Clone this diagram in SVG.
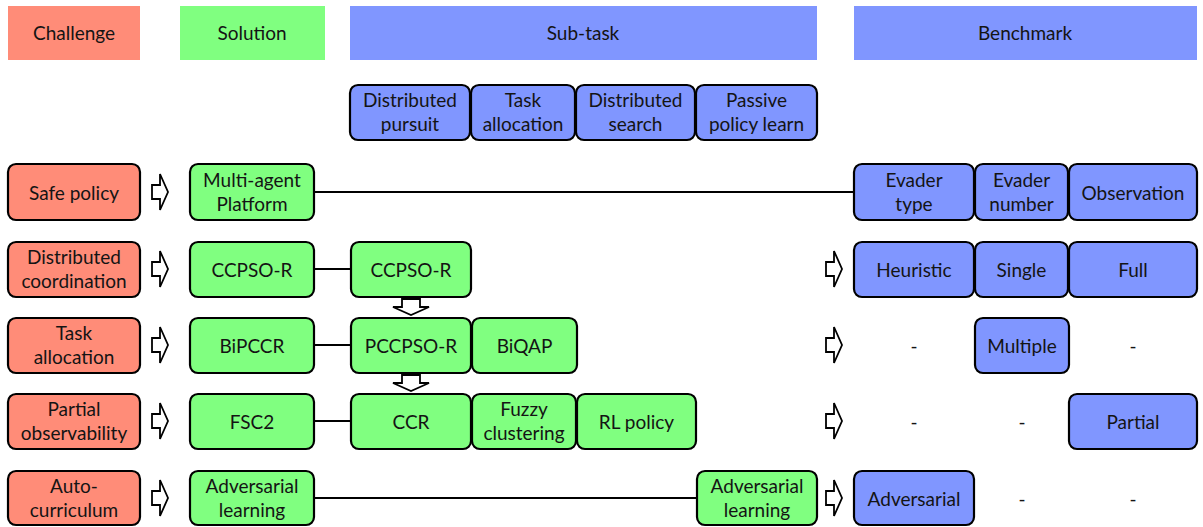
<svg xmlns="http://www.w3.org/2000/svg" width="1203" height="527" viewBox="0 0 1203 527">
  <style>
    text { font-family: Lato, "Liberation Sans", sans-serif; font-size: 19px; fill: #141414; text-anchor: middle; }
    .hdr { stroke: none; }
    .node { stroke: #000; stroke-width: 2.2; }
    .red { fill: #FF8C78; }
    .green { fill: #80FF80; }
    .blue { fill: #8096FF; }
    .link { stroke: #000; stroke-width: 2; fill: none; }
    .barrow { fill: #fff; stroke: #000; stroke-width: 1.8; stroke-linejoin: miter; }
  </style>
  <defs>
    <!-- hollow block arrow pointing right, tip at (8,0) -->
    <path id="arrR" d="M -8 -7 H 0 V -18 L 8 0 L 0 18 V 7 H -8 Z"/>
    <!-- hollow block arrow pointing down, tip at (0,8) -->
    <path id="arrD" d="M -9 -8 V 0 H -18 L 0 8 L 18 0 H 9 V -8 Z"/>
  </defs>
  <rect width="1203" height="527" fill="#fff"/>

  <!-- column headers -->
  <g id="hdr-challenge"><rect class="hdr red" x="8" y="6" width="132" height="54"/><text x="74" y="40">Challenge</text></g>
  <g id="hdr-solution"><rect class="hdr green" x="180" y="6" width="145" height="54"/><text x="252" y="40">Solution</text></g>
  <g id="hdr-subtask"><rect class="hdr blue" x="350" y="6" width="467" height="54"/><text x="583" y="40">Sub-task</text></g>
  <g id="hdr-benchmark"><rect class="hdr blue" x="854" y="6" width="343" height="54"/><text x="1025" y="40">Benchmark</text></g>

  <!-- connectors -->
  <g id="connectors">
    <line class="link" x1="314" y1="192" x2="854" y2="192"/>
    <line class="link" x1="314" y1="269" x2="351" y2="269"/>
    <line class="link" x1="314" y1="345" x2="351" y2="345"/>
    <line class="link" x1="314" y1="421" x2="351" y2="421"/>
    <line class="link" x1="314" y1="498" x2="697" y2="498"/>
    <use href="#arrR" class="barrow" x="160" y="192"/>
    <use href="#arrR" class="barrow" x="160" y="269"/>
    <use href="#arrR" class="barrow" x="160" y="345"/>
    <use href="#arrR" class="barrow" x="160" y="421"/>
    <use href="#arrR" class="barrow" x="160" y="498"/>
    <use href="#arrR" class="barrow" x="834" y="269"/>
    <use href="#arrR" class="barrow" x="834" y="345"/>
    <use href="#arrR" class="barrow" x="834" y="421"/>
    <use href="#arrR" class="barrow" x="834" y="498"/>
    <use href="#arrD" class="barrow" x="411" y="307"/>
    <use href="#arrD" class="barrow" x="411" y="383"/>
  </g>

  <!-- sub-task categories -->
  <g id="st-pursuit"><rect class="node blue" x="350" y="85" width="120" height="55" rx="8"/><text x="410" y="107">Distributed</text><text x="410" y="131">pursuit</text></g>
  <g id="st-alloc"><rect class="node blue" x="471" y="85" width="104" height="55" rx="8"/><text x="523" y="107">Task</text><text x="523" y="131">allocation</text></g>
  <g id="st-search"><rect class="node blue" x="576" y="85" width="119" height="55" rx="8"/><text x="635.5" y="107">Distributed</text><text x="635.5" y="131">search</text></g>
  <g id="st-passive"><rect class="node blue" x="696" y="85" width="121" height="55" rx="8"/><text x="756.5" y="107">Passive</text><text x="756.5" y="131">policy learn</text></g>

  <!-- challenges -->
  <g id="ch-safe"><rect class="node red" x="8" y="164" width="132" height="56" rx="8"/><text x="74" y="200">Safe policy</text></g>
  <g id="ch-coord"><rect class="node red" x="8" y="242" width="132" height="55" rx="8"/><text x="74" y="264">Distributed</text><text x="74" y="288">coordination</text></g>
  <g id="ch-alloc"><rect class="node red" x="8" y="318" width="132" height="55" rx="8"/><text x="74" y="340">Task</text><text x="74" y="364">allocation</text></g>
  <g id="ch-partial"><rect class="node red" x="8" y="394" width="132" height="55" rx="8"/><text x="74" y="416">Partial</text><text x="74" y="440">observability</text></g>
  <g id="ch-auto"><rect class="node red" x="8" y="471" width="132" height="54" rx="8"/><text x="74" y="493">Auto-</text><text x="74" y="517">curriculum</text></g>

  <!-- solutions -->
  <g id="sol-platform"><rect class="node green" x="190" y="164" width="124" height="56" rx="8"/><text x="252" y="187">Multi-agent</text><text x="252" y="211">Platform</text></g>
  <g id="sol-ccpsor"><rect class="node green" x="190" y="242" width="124" height="55" rx="8"/><text x="252" y="277">CCPSO-R</text></g>
  <g id="sol-bipccr"><rect class="node green" x="190" y="318" width="124" height="55" rx="8"/><text x="252" y="353">BiPCCR</text></g>
  <g id="sol-fsc2"><rect class="node green" x="190" y="394" width="124" height="55" rx="8"/><text x="252" y="429">FSC2</text></g>
  <g id="sol-adv"><rect class="node green" x="190" y="471" width="124" height="54" rx="8"/><text x="252" y="493">Adversarial</text><text x="252" y="517">learning</text></g>

  <!-- sub-task methods -->
  <g id="m-ccpsor"><rect class="node green" x="351" y="242" width="120" height="55" rx="8"/><text x="411" y="277">CCPSO-R</text></g>
  <g id="m-pccpsor"><rect class="node green" x="351" y="318" width="120" height="55" rx="8"/><text x="411" y="353">PCCPSO-R</text></g>
  <g id="m-biqap"><rect class="node green" x="472" y="318" width="105" height="55" rx="8"/><text x="524.5" y="353">BiQAP</text></g>
  <g id="m-ccr"><rect class="node green" x="351" y="394" width="120" height="55" rx="8"/><text x="411" y="429">CCR</text></g>
  <g id="m-fuzzy"><rect class="node green" x="472" y="394" width="104" height="55" rx="8"/><text x="524" y="416">Fuzzy</text><text x="524" y="440">clustering</text></g>
  <g id="m-rl"><rect class="node green" x="577" y="394" width="119" height="55" rx="8"/><text x="636.5" y="429">RL policy</text></g>
  <g id="m-adv"><rect class="node green" x="697" y="471" width="120" height="54" rx="8"/><text x="757" y="493">Adversarial</text><text x="757" y="517">learning</text></g>

  <!-- benchmark attributes -->
  <g id="b-type"><rect class="node blue" x="854" y="164" width="120" height="56" rx="8"/><text x="914" y="187">Evader</text><text x="914" y="211">type</text></g>
  <g id="b-number"><rect class="node blue" x="975" y="164" width="93" height="56" rx="8"/><text x="1021.5" y="187">Evader</text><text x="1021.5" y="211">number</text></g>
  <g id="b-obs"><rect class="node blue" x="1069" y="164" width="128" height="56" rx="8"/><text x="1133" y="200">Observation</text></g>
  <g id="b-heuristic"><rect class="node blue" x="854" y="242" width="120" height="55" rx="8"/><text x="914" y="277">Heuristic</text></g>
  <g id="b-single"><rect class="node blue" x="975" y="242" width="93" height="55" rx="8"/><text x="1021.5" y="277">Single</text></g>
  <g id="b-full"><rect class="node blue" x="1069" y="242" width="128" height="55" rx="8"/><text x="1133" y="277">Full</text></g>
  <g id="b-multiple"><rect class="node blue" x="975" y="318" width="94" height="55" rx="8"/><text x="1022" y="353">Multiple</text></g>
  <g id="b-partial"><rect class="node blue" x="1069" y="394" width="128" height="55" rx="8"/><text x="1133" y="429">Partial</text></g>
  <g id="b-adversarial"><rect class="node blue" x="854" y="471" width="120" height="54" rx="8"/><text x="914" y="506">Adversarial</text></g>

  <!-- empty benchmark cells -->
  <g id="b-dashes">
    <text x="914" y="353">-</text><text x="1133" y="353">-</text>
    <text x="914" y="429">-</text><text x="1022" y="429">-</text>
    <text x="1022" y="506">-</text><text x="1133" y="506">-</text>
  </g>
</svg>
